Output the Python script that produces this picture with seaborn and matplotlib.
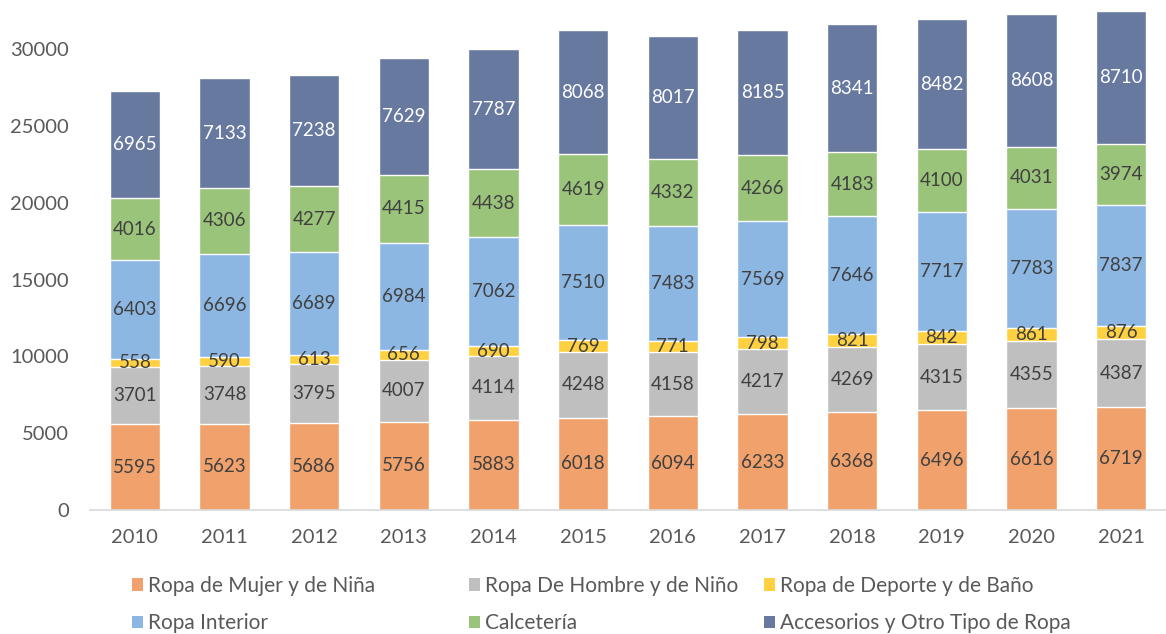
import matplotlib
matplotlib.use('Agg')
import matplotlib.pyplot as plt
import pandas as pd
import numpy as np
import seaborn as sns
from matplotlib.patches import Patch

years = ['2010', '2011', '2012', '2013', '2014', '2015',
         '2016', '2017', '2018', '2019', '2020', '2021']

mujer = [5595, 5623, 5686, 5756, 5883, 6018, 6094, 6233, 6368, 6496, 6616, 6719]
hombre = [3701, 3748, 3795, 4007, 4114, 4248, 4158, 4217, 4269, 4315, 4355, 4387]
deporte = [558, 590, 613, 656, 690, 769, 771, 798, 821, 842, 861, 876]
interior = [6403, 6696, 6689, 6984, 7062, 7510, 7483, 7569, 7646, 7717, 7783, 7837]
calceteria = [4016, 4306, 4277, 4415, 4438, 4619, 4332, 4266, 4183, 4100, 4031, 3974]
accesorios = [6965, 7133, 7238, 7629, 7787, 8068, 8017, 8185, 8341, 8482, 8608, 8710]

series_names = ['Ropa de Mujer y de Niña', 'Ropa De Hombre y de Niño',
                'Ropa de Deporte y de Baño', 'Ropa Interior',
                'Calcetería', 'Accesorios y Otro Tipo de Ropa']
series_values = [mujer, hombre, deporte, interior, calceteria, accesorios]
colors = ['#F1A26C', '#BFBFBF', '#FFD03F', '#8DB7E3', '#9BC47B', '#67799F']
label_colors = ['#404040'] * 5 + ['white']

sns.set_theme(style='white')
plt.rcParams['font.family'] = ['Lato', 'DejaVu Sans']

df = pd.DataFrame(dict(zip(series_names, series_values)), index=years)
cum = df.cumsum(axis=1)
bottoms = cum.shift(1, axis=1).fillna(0)

fig = plt.figure(figsize=(11.66, 6.34), dpi=100)
ax = fig.add_axes([0.0772, 0.1956, 0.9228, 0.8044])

# draw cumulative layers from the top down so each layer covers the one above's lower part
for name, color in reversed(list(zip(series_names, colors))):
    sns.barplot(x=years, y=cum[name].values, color=color, width=0.56,
                saturation=1, errorbar=None, ax=ax)

for name, lc in zip(series_names, label_colors):
    for i, yr in enumerate(years):
        v = df.loc[yr, name]
        ax.text(i, bottoms.loc[yr, name] + v / 2, f'{v}', ha='center', va='center',
                fontsize=13.5, color=lc)

ax.set_ylim(0, 33190)
ax.set_xlim(-0.5, 11.5)
ax.set_yticks(range(0, 30001, 5000))
ax.tick_params(axis='y', pad=15, labelsize=14.5, colors='#595959', length=0)
ax.tick_params(axis='x', pad=14, labelsize=14.5, colors='#595959', length=0)
for s in ['left', 'top', 'right']:
    ax.spines[s].set_visible(False)
ax.spines['bottom'].set_color('#D9D9D9')
ax.spines['bottom'].set_linewidth(1.2)
ax.set_xlabel('')
ax.set_ylabel('')

handles = [Patch(facecolor=c, edgecolor='none') for c in colors]
col_x = [0.113, 0.402, 0.655]
for k in range(3):
    idx = [k, k + 3]
    leg = fig.legend([handles[j] for j in idx], [series_names[j] for j in idx],
                     loc='upper left', bbox_to_anchor=(col_x[k], 0.092),
                     frameon=False, fontsize=15, handlelength=0.55, handleheight=0.55,
                     handletextpad=0.25, labelspacing=0.85, borderaxespad=0,
                     borderpad=0)
    for t in leg.get_texts():
        t.set_color('#595959')

fig.savefig('out.png', dpi=100)
